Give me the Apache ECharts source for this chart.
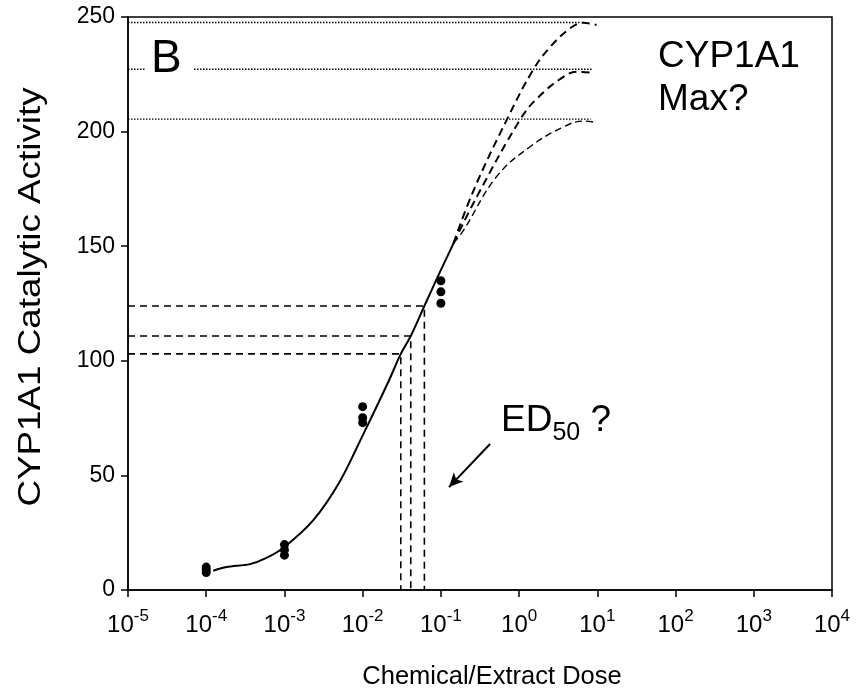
<!DOCTYPE html>
<html>
<head>
<meta charset="utf-8">
<script src="https://cdn.jsdelivr.net/npm/echarts@6/dist/echarts.min.js"></script>
<style>
html,body{margin:0;padding:0;background:#fff;}
#chart{width:863px;height:690px;}
</style>
</head>
<body>
<div id="chart"></div>
<script>
// ---- data ----
const pointDoses = [1e-4,1e-4,1e-4, 1e-3,1e-3,1e-3, 1e-2,1e-2,1e-2, 1e-1,1e-1,1e-1];
const pointValues = [7.6,8.8,10.0, 15.2,17.5,19.8, 73.0,75.2,80.0, 125.1,130.1,134.9];

const fitDoses  = [1.23e-4,1.82e-4,3.63e-4,5.89e-4,1.0e-3,2.34e-3,5.13e-3,1.02e-2,1.66e-2,2.24e-2,3.07e-2,4.12e-2,6.15e-2,9.12e-2,0.132,0.145];
const fitValues = [8.4,10.0,11.3,14.0,18.8,30.5,47.5,68.0,83.0,92.5,103.0,110.8,123.9,136.7,148.3,151.3];

const extHighDoses  = [0.145,0.263,0.692,1.51,2.51,4.47,6.61,9.77];
const extHighValues = [151.3,174.5,205.0,226.9,237.0,245.0,247.5,246.5];
const extMidDoses   = [0.145,0.288,1.02,1.70,3.72,5.50,8.51];
const extMidValues  = [151.3,171.6,205.0,214.5,224.0,226.1,225.7];
const extLowDoses   = [0.145,0.195,0.513,1.38,3.72,6.61,9.77];
const extLowValues  = [151.3,157.0,180.3,193.4,202.1,204.6,203.9];

const maxLevels = [247.6, 227.2, 205.4];
const maxLineEnds = [6.0, 8.5, 8.2];
const ed50Doses = [0.0307, 0.0412, 0.0615];
const ed50Values = [103.0, 110.8, 123.9];

const arrowStart = [0.425, 63.7];
const arrowEnd = [0.127, 44.9];

const xTickExponents = [-5,-4,-3,-2,-1,0,1,2,3,4];
const yTicks = [0,50,100,150,200,250];

const xMin = 1e-5, xMax = 1e4;
const FONT = '"Liberation Sans", Arial, sans-serif';

// ---- build ----
const zip = (a,b) => a.map((v,i)=>[v,b[i]]);
const series = [];

maxLevels.forEach((lv,i) => {
  series.push({type:'line', data:[[xMin,lv],[maxLineEnds[i],lv]], symbol:'none', silent:true,
    lineStyle:{color:'#000', width:1.3, type:[1.5,1.5]}, z:1});
});
ed50Doses.forEach((d,i) => {
  const v = ed50Values[i];
  series.push({type:'line', data:[[xMin,v],[d,v],[d,0]], symbol:'none', silent:true,
    lineStyle:{color:'#000', width:1.6, type:[7,5]}, z:2});
});
series.push({type:'line', data:zip(extHighDoses,extHighValues), smooth:0.4, symbol:'none',
  lineStyle:{color:'#000', width:2, type:[8,5]}, z:3});
series.push({type:'line', data:zip(extMidDoses,extMidValues), smooth:0.4, symbol:'none',
  lineStyle:{color:'#000', width:2, type:[8,5]}, z:3});
series.push({type:'line', data:zip(extLowDoses,extLowValues), smooth:0.4, symbol:'none',
  lineStyle:{color:'#000', width:1.4, type:[7,4]}, z:3});
series.push({type:'line', data:zip(fitDoses,fitValues), smooth:0.3, symbol:'none',
  lineStyle:{color:'#000', width:2}, z:4,
  markLine:{silent:true, symbol:['none','arrow'], symbolSize:[10,14],
    lineStyle:{color:'#000', width:2, type:'solid'}, label:{show:false},
    data:[[{coord:arrowStart},{coord:arrowEnd}]]}});
series.push({type:'scatter', data:zip(pointDoses,pointValues), symbol:'circle', symbolSize:9,
  itemStyle:{color:'#000', opacity:1}, z:5});

const chart = echarts.init(document.getElementById('chart'), null, {renderer:'canvas'});
chart.setOption({
  animation:false,
  backgroundColor:'#fff',
  grid:{left:128, right:31, top:17, bottom:100, show:true, borderColor:'#000', borderWidth:1.5},
  xAxis:{type:'log', logBase:10, min:xMin, max:xMax, splitNumber:9,
    axisLine:{lineStyle:{color:'#000', width:1.5}},
    axisTick:{inside:false, length:7, lineStyle:{color:'#000', width:1.5}},
    splitLine:{show:false},
    axisLabel:{margin:18, showMinLabel:true, showMaxLabel:true,
      formatter: v => {
        const e = Math.round(Math.log10(v));
        if (xTickExponents.indexOf(e) < 0) return '';
        return '{b|10}{s|' + e + '}';
      },
      rich:{
        b:{fontFamily:FONT, fontSize:24, color:'#000', lineHeight:29, verticalAlign:'bottom'},
        s:{fontFamily:FONT, fontSize:17, color:'#000', lineHeight:17, verticalAlign:'top'}
      }}
  },
  yAxis:{type:'value', min:0, max:250, interval:50,
    axisLine:{show:true, lineStyle:{color:'#000', width:1.5}},
    axisTick:{show:true, inside:false, length:7, lineStyle:{color:'#000', width:1.5}},
    splitLine:{show:false},
    axisLabel:{margin:13, fontFamily:FONT, fontSize:23, color:'#000',
      formatter: v => yTicks.indexOf(v) >= 0 ? String(v) : ''}
  },
  graphic:[
    {type:'text', x:492, y:677, z:10, style:{text:'Chemical/Extract Dose', font:'25.5px ' + FONT, fill:'#000', textAlign:'center', textVerticalAlign:'middle'}},
    {type:'text', x:31, y:297, rotation:Math.PI/2, scaleX:1.15, z:10, style:{text:'CYP1A1 Catalytic Activity', font:'32px ' + FONT, fill:'#000', textAlign:'center', textVerticalAlign:'middle'}},
    {type:'text', x:146, y:59, z:10, style:{text:'B', font:'46px ' + FONT, fill:'#000', textAlign:'left', textVerticalAlign:'middle', backgroundColor:'#fff', padding:[0,12,0,5]}},
    {type:'text', x:658, y:57, z:10, style:{text:'CYP1A1', font:'37px ' + FONT, fill:'#000', textAlign:'left', textVerticalAlign:'middle'}},
    {type:'text', x:658, y:100, z:10, style:{text:'Max?', font:'37px ' + FONT, fill:'#000', textAlign:'left', textVerticalAlign:'middle'}},
    {type:'text', x:501, y:424, z:10, style:{
      text:'{e|ED}{s|50}{e| ?}', textAlign:'left', textVerticalAlign:'middle',
      rich:{e:{fontFamily:FONT, fontSize:37, fill:'#000', color:'#000', lineHeight:44, verticalAlign:'top'},
            s:{fontFamily:FONT, fontSize:25, fill:'#000', color:'#000', lineHeight:25, verticalAlign:'bottom'}}}}
  ],
  series: series
});
</script>
</body>
</html>
